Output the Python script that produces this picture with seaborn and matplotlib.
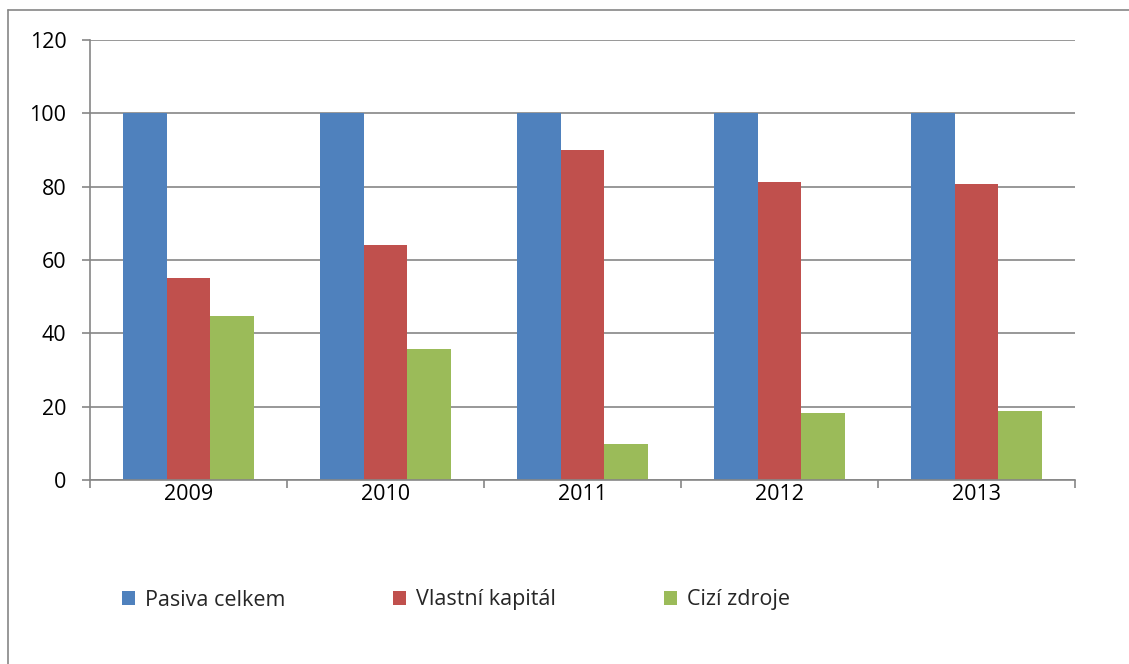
import matplotlib
matplotlib.use("Agg")
import matplotlib.pyplot as plt
import seaborn as sns
import pandas as pd
from matplotlib.patches import Patch
from matplotlib.lines import Line2D

years = ["2009", "2010", "2011", "2012", "2013"]
series_names = ["Pasiva celkem", "Vlastní kapitál", "Cizí zdroje"]
pasiva_celkem = [100, 100, 100, 100, 100]
vlastni_kapital = [55.0, 64.2, 89.9, 81.3, 80.7]
cizi_zdroje = [44.7, 35.7, 9.9, 18.4, 18.9]
y_ticks = [0, 20, 40, 60, 80, 100, 120]
colors = ["#4F81BD", "#C0504D", "#9BBB59"]

rows = []
for name, vals in zip(series_names, [pasiva_celkem, vlastni_kapital, cizi_zdroje]):
    for y, v in zip(years, vals):
        rows.append({"Rok": y, "Série": name, "Hodnota": v})
df = pd.DataFrame(rows)

sns.set_theme(style="white")
plt.rcParams["font.family"] = ["Open Sans", "DejaVu Sans"]

W, H = 1129, 664
FS = 15.5
fig = plt.figure(figsize=(W / 100, H / 100), dpi=100)
ax = fig.add_axes([90 / W, (H - 480) / H, (1075 - 90) / W, 440 / H])

sns.barplot(data=df, x="Rok", y="Hodnota", hue="Série", order=years,
            hue_order=series_names, palette=colors, width=0.667,
            saturation=1, edgecolor="none", linewidth=0, ax=ax, legend=False)

ax.set_ylim(0, 120)
ax.set_xlim(-0.5, 4.5)
ax.set_yticks(y_ticks)
ax.set_yticklabels([str(t) for t in y_ticks])
ax.yaxis.grid(True, color="#868686", linewidth=1.2)
ax.set_axisbelow(True)
ax.set_xlabel("")
ax.set_ylabel("")

for side in ["top", "right"]:
    ax.spines[side].set_visible(False)
for side in ["left", "bottom"]:
    ax.spines[side].set_visible(True)
    ax.spines[side].set_color("#868686")
    ax.spines[side].set_linewidth(1.2)

ax.tick_params(axis="y", which="major", left=True, length=6, width=1.2,
               color="#868686", pad=11, labelsize=FS, labelcolor="black")
ax.tick_params(axis="x", which="major", bottom=False, length=0, pad=3,
               labelsize=FS, labelcolor="black")
ax.set_xticks([i - 0.5 for i in range(6)], minor=True)
ax.tick_params(axis="x", which="minor", bottom=True, length=6, width=1.2,
               color="#868686")

# Legend: three entries at evenly spaced positions
legend_x = [122, 393, 664]
for name, c, x in zip(series_names, colors, legend_x):
    fig.legend(handles=[Patch(facecolor=c, edgecolor="none")], labels=[name],
               loc="center left", bbox_to_anchor=(x / W, (H - 600) / H),
               frameon=False, fontsize=FS, handlelength=0.6,
               handleheight=0.6, handletextpad=0.45, borderpad=0,
               borderaxespad=0)

# Outer chart border (partially visible)
fig.add_artist(Line2D([8 / W, 8 / W], [0, (H - 10) / H], transform=fig.transFigure,
                      color="#868686", linewidth=1.2))
fig.add_artist(Line2D([8 / W, 1], [(H - 10) / H, (H - 10) / H], transform=fig.transFigure,
                      color="#868686", linewidth=1.2))

fig.savefig("out.png", dpi=100, facecolor="white")
